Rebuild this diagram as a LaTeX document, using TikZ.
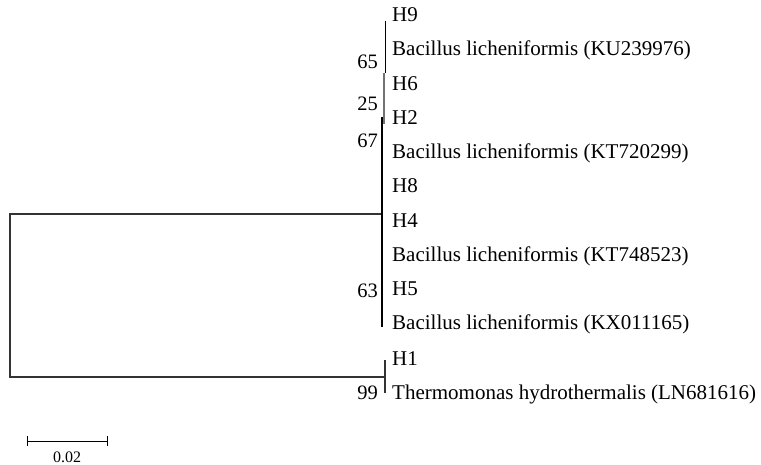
\documentclass[tikz,border=0pt]{standalone}
\usepackage{fontspec}
\setmainfont{Liberation Serif}
\begin{document}
\begin{tikzpicture}[x=1pt,y=-1pt,
  br/.style={line width=1.2pt, draw=black!80},
  leaf/.style={anchor=base west, inner sep=0pt, font=\fontsize{21}{23}\selectfont},
  boot/.style={anchor=base east, inner sep=0pt, font=\fontsize{20.5}{23}\selectfont}]
\useasboundingbox (0,0) rectangle (761,465);
% leaf labels (baseline = centre + 7)
\node[leaf] (l1) at (392,22) {H9};
\node[leaf] (l2) at (392,56) {Bacillus licheniformis (KU239976)};
\node[leaf] (l3) at (392,91) {H6};
\node[leaf] (l4) at (392,125) {H2};
\node[leaf] (l5) at (392,159) {Bacillus licheniformis (KT720299)};
\node[leaf] (l6) at (392,193) {H8};
\node[leaf] (l7) at (392,228) {H4};
\node[leaf] (l8) at (392,262) {Bacillus licheniformis (KT748523)};
\node[leaf] (l9) at (392,296) {H5};
\node[leaf] (l10) at (392,330) {Bacillus licheniformis (KX011165)};
\node[leaf] (l11) at (392,365) {H1};
\node[leaf] (l12) at (392,399) {Thermomonas hydrothermalis (LN681616)};
% bootstrap
\node[boot] (b65) at (378,69) {65};
\node[boot] (b25) at (378,111) {25};
\node[boot] (b67) at (378,148) {67};
\node[boot] (b63) at (378,298) {63};
\node[boot] (b99) at (378,399) {99};
% coordinates
\coordinate (r1) at (10,214);
\coordinate (r2) at (10,377);
\coordinate (c1) at (382,214);
\coordinate (c2) at (385,377);
% tree
\draw[br] (c1) -- (r1) -- (r2) -- (c2);
\draw[br] (385,360) -- (385,393);
\draw[line width=0.9pt] (385,21) -- (385,73);
\draw[line width=1.6pt, draw=black!55] (384,73) -- (384,124);
\draw[line width=1.1pt] (382,117) -- (382,327);
% scale bar
\coordinate (s1) at (27,441);
\coordinate (s2) at (107,441);
\draw[line width=0.8pt] (s1) -- (s2);
\draw[line width=0.8pt] (27,436) -- (27,446);
\draw[line width=0.8pt] (107,436) -- (107,446);
\node[inner sep=0pt, font=\fontsize{16}{18}\selectfont] (sl) at (67,457) {0.02};
\end{tikzpicture}
\end{document}
